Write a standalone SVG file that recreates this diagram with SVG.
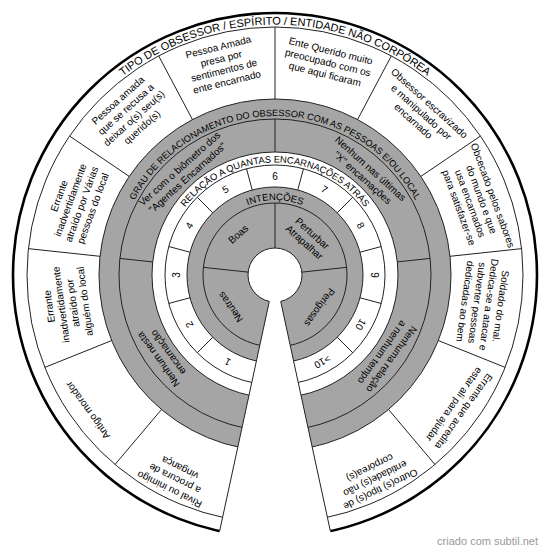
<svg xmlns="http://www.w3.org/2000/svg" width="550" height="553" viewBox="0 0 550 553">
<defs>
<style>
.ln{fill:none;stroke:#222;stroke-width:1}
.gr{fill:#a5a5a5;stroke:#222;stroke-width:1}
.wh{fill:#fff;stroke:#222;stroke-width:1}
text{font-family:"Liberation Sans",Arial,sans-serif;fill:#000;text-anchor:middle}
.t{font-size:10px}
.n{font-size:10px}
</style>
<path id="pOuter" d="M24.5,275 A250.5,250.5 0 0 1 525.5,275"/>
<path id="pMid" d="M116,275 A159,159 0 0 1 434,275"/>
<path id="pRel" d="M162.5,275 A112.5,112.5 0 0 1 387.5,275"/>
<path id="pInt" d="M200,275 A75,75 0 0 1 350,275"/>
</defs>
<rect width="550" height="553" fill="#fff"/>
<g id="rings">
<circle cx="275" cy="275" r="262" fill="#fff" stroke="#000" stroke-width="2.6"/>
<circle cx="275" cy="275" r="248" class="ln"/>
<circle cx="275" cy="275" r="176" class="gr"/>
<circle cx="275" cy="275" r="156" class="ln"/>
<circle cx="275" cy="275" r="123" class="wh"/>
<circle cx="275" cy="275" r="110" class="wh"/>
<circle cx="275" cy="275" r="88" class="gr"/>
<circle cx="275" cy="275" r="72" class="ln"/>
<circle cx="275" cy="275" r="27" class="wh"/>
</g>
<g id="connectors">
<path class="ln" d="M275,99V27 M357.55,119.56L391.31,55.96 M192.45,119.56L158.69,55.96 M420.79,176.4L480.43,136.07 M129.21,176.4L69.57,136.07 M450,256.3L521.6,248.65 M100,256.3L28.4,248.65 M438.33,340.56L505.15,367.38 M111.67,340.56L44.85,367.38 M388.53,409.49L434.98,464.5 M161.47,409.49L115.02,464.5"/>
<path class="ln" d="M275,152V119 M397.3,261.93L430.12,258.42 M152.7,261.93L119.88,258.42"/>
<path class="ln" d="M275,248V203 M301.85,272.13L346.59,267.35 M248.15,272.13L203.41,267.35"/>
<path class="ln" d="M297.78,190L303.47,168.75 M252.22,190L246.53,168.75 M337.23,212.77L352.78,197.22 M212.77,212.77L197.22,197.22 M360,252.22L381.25,246.53 M190,252.22L168.75,246.53 M360,297.78L381.25,303.47 M190,297.78L168.75,303.47 M337.23,337.23L352.78,352.78 M212.77,337.23L197.22,352.78"/>
<polygon points="275,275 332.48,540.86 217.52,540.86" fill="#fff"/>
<path class="ln" d="M280.71,301.39L330.37,531.08 M269.29,301.39L219.63,531.08"/>
</g>
<g id="titles">
<text font-size="11"><textPath href="#pOuter" startOffset="50%">TIPO DE OBSESSOR / ESPÍRITO / ENTIDADE NÃO CORPÓREA</textPath></text>
<text font-size="9.2"><textPath href="#pMid" startOffset="50%">GRAU DE RELACIONAMENTO DO OBSESSOR COM AS PESSOAS E/OU LOCAL</textPath></text>
<text font-size="9.4"><textPath href="#pRel" startOffset="50%">RELAÇÃO A QUANTAS ENCARNAÇÕES ATRÁS</textPath></text>
<text font-size="9.6"><textPath href="#pInt" startOffset="50%">INTENÇÕES</textPath></text>
</g>
<g id="outer-ente" transform="rotate(13.98 275 275)"><text class="t" x="275" y="47.5">Ente Querido muito<tspan x="275" dy="12">preocupado com os</tspan><tspan x="275" dy="12">que aqui ficaram</tspan></text></g>
<g id="outer-escravizado" transform="rotate(41.95 275 275)"><text class="t" x="275" y="47.5">Obsessor escravizado<tspan x="275" dy="12">e manipulado por</tspan><tspan x="275" dy="12">encarnado</tspan></text></g>
<g id="outer-obcecado" transform="rotate(69.9 275 275)"><text class="t" x="275" y="46.5">Obcecado pelos sabores<tspan x="275" dy="12">do mundo e que</tspan><tspan x="275" dy="12">usa encarnados</tspan><tspan x="275" dy="12">para satisfazer-se</tspan></text></g>
<g id="outer-soldado" transform="rotate(97.9 275 275)"><text class="t" x="275" y="50.5">Soldado do mal.<tspan x="275" dy="12">Dedica-se a atacar e</tspan><tspan x="275" dy="12">subverter pessoas</tspan><tspan x="275" dy="12">dedicadas ao bem</tspan></text></g>
<g id="outer-errante-ajudar" transform="rotate(125.85 275 275)"><text class="t" x="275" y="45.5">Errante que acredita<tspan x="275" dy="12">estar ali para ajudar</tspan></text></g>
<g id="outer-outros" transform="rotate(153.8 275 275)"><text class="t" x="275" y="39.5">Outro(s) tipo(s) de<tspan x="275" dy="12">entidade(s) não</tspan><tspan x="275" dy="12">corpórea(s)</tspan></text></g>
<g id="outer-pessoa-presa" transform="rotate(-13.98 275 275)"><text class="t" x="275" y="43.5">Pessoa Amada<tspan x="275" dy="12">presa por</tspan><tspan x="275" dy="12">sentimentos de</tspan><tspan x="275" dy="12">ente encarnado</tspan></text></g>
<g id="outer-pessoa-recusa" transform="rotate(-41.95 275 275)"><text class="t" x="275" y="43.5">Pessoa amada<tspan x="275" dy="12">que se recusa a</tspan><tspan x="275" dy="12">deixar o(s) seu(s)</tspan><tspan x="275" dy="12">querido(s)</tspan></text></g>
<g id="outer-errante-varias" transform="rotate(-69.9 275 275)"><text class="t" x="275" y="48.5">Errante<tspan x="275" dy="12">inadvertidamente</tspan><tspan x="275" dy="12">atraído  por Várias</tspan><tspan x="275" dy="12">pessoas do local</tspan></text></g>
<g id="outer-errante-alguem" transform="rotate(-97.9 275 275)"><text class="t" x="275" y="50.5">Errante<tspan x="275" dy="12">inadvertidamente</tspan><tspan x="275" dy="12">atraído por</tspan><tspan x="275" dy="12">alguém do local</tspan></text></g>
<g id="outer-antigo" transform="rotate(-125.85 275 275)"><text class="t" x="275" y="47.5">Antigo morador</text></g>
<g id="outer-rival" transform="rotate(-153.8 275 275)"><text class="t" x="275" y="39.5">Rival ou inimigo<tspan x="275" dy="12">a procura de</tspan><tspan x="275" dy="12">vingança</tspan></text></g>
<g id="mid-biometro" transform="rotate(-41.95 275 275)"><text class="t" x="275" y="135.5">Ver com o biômetro dos<tspan x="275" dy="12">"Agentes Encarnados"</tspan></text></g>
<g id="mid-ultimas" transform="rotate(41.95 275 275)"><text class="t" x="275" y="135.5">Nenhum nas últimas<tspan x="275" dy="12">"X" encarnações</tspan></text></g>
<g id="mid-nesta" transform="rotate(-125.85 275 275)"><text class="t" x="275" y="134.5">Nenhum nesta<tspan x="275" dy="12">encarnação</tspan></text></g>
<g id="mid-nenhuma" transform="rotate(125.85 275 275)"><text class="t" x="275" y="134.5">Nenhuma relação<tspan x="275" dy="12">a nenhum tempo</tspan></text></g>
<g id="int-boas" transform="rotate(-41.95 275 275)"><text class="t" x="275" y="223.5">Boas</text></g>
<g id="int-perturbar" transform="rotate(41.95 275 275)"><text class="t" x="275" y="222.5">Perturbar<tspan x="275" dy="12">Atrapalhar</tspan></text></g>
<g id="int-neutras" transform="rotate(-125.85 275 275)"><text class="t" x="275" y="223.5">Neutras</text></g>
<g id="int-perigosas" transform="rotate(125.85 275 275)"><text class="t" x="275" y="223.5">Perigosas</text></g>
<g id="num-1" transform="rotate(-151.4 275 275)"><text class="n" x="275" y="179.5">1</text></g>
<g id="num-2" transform="rotate(-120 275 275)"><text class="n" x="275" y="179.5">2</text></g>
<g id="num-3" transform="rotate(-90 275 275)"><text class="n" x="275" y="179.5">3</text></g>
<g id="num-4" transform="rotate(-60 275 275)"><text class="n" x="275" y="179.5">4</text></g>
<g id="num-5" transform="rotate(-30 275 275)"><text class="n" x="275" y="179.5">5</text></g>
<g id="num-6"><text class="n" x="275" y="179.5">6</text></g>
<g id="num-7" transform="rotate(30 275 275)"><text class="n" x="275" y="179.5">7</text></g>
<g id="num-8" transform="rotate(60 275 275)"><text class="n" x="275" y="179.5">8</text></g>
<g id="num-9" transform="rotate(90 275 275)"><text class="n" x="275" y="179.5">9</text></g>
<g id="num-10" transform="rotate(120 275 275)"><text class="n" x="275" y="179.5">10</text></g>
<g id="num-gt10" transform="rotate(151.4 275 275)"><text class="n" x="275" y="179.5">&gt;10</text></g>
<text x="538" y="545" font-size="11" fill="#999" style="text-anchor:end;fill:#999">criado com subtil.net</text>
</svg>
